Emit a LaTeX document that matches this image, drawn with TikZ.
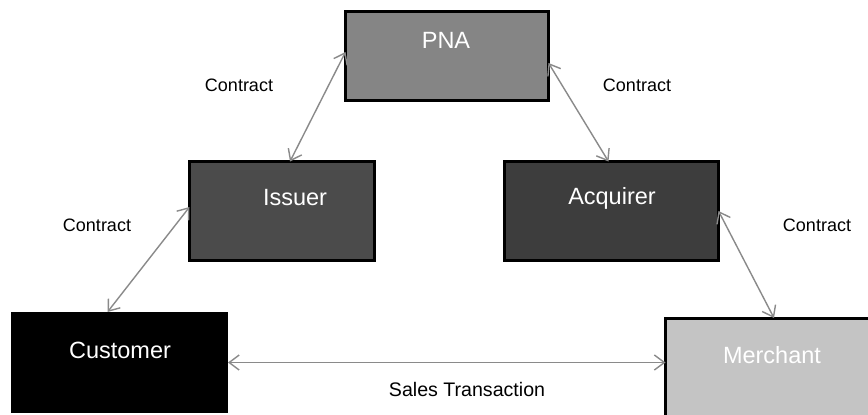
\documentclass[tikz,border=0pt]{standalone}
\usepackage{fontspec}
\setmainfont{Liberation Sans}
\usetikzlibrary{arrows.meta}
\definecolor{pnagray}{HTML}{858585}
\definecolor{issgray}{HTML}{4B4B4B}
\definecolor{acqgray}{HTML}{3D3D3D}
\definecolor{mergray}{HTML}{C4C4C4}
\definecolor{arrgray}{HTML}{8A8A8A}
\tikzset{
  box/.style={draw=black, line width=3pt, rectangle, inner sep=0pt, outer sep=0pt},
  boxtext/.style={text=white, font=\fontsize{23.5}{27}\selectfont, inner sep=0pt},
  lbl/.style={text=black, font=\fontsize{18}{21}\selectfont, inner sep=0pt},
  link/.style={draw=arrgray, line width=1.4pt, {Straight Barb[length=10pt,width=15pt]}-{Straight Barb[length=10pt,width=15pt]}}
}
\begin{document}
\begin{tikzpicture}[x=1pt,y=-1pt]
\useasboundingbox (0,0) rectangle (868,415);
\clip (0,0) rectangle (868,415);
\fill[white] (0,0) rectangle (868,415);
% boxes
\node[box, fill=pnagray, minimum width=203pt, minimum height=89pt] (pna) at (447,56) {};
\node[box, fill=issgray, minimum width=185pt, minimum height=99pt] (issuer) at (282,211) {};
\node[box, fill=acqgray, minimum width=214pt, minimum height=99pt] (acquirer) at (611.5,211) {};
\node[box, draw=none, fill=black, minimum width=217pt, minimum height=101pt] (customer) at (119.5,362.5) {};
\node[box, fill=mergray, minimum width=216pt, minimum height=113pt] (merchant) at (773.5,374.5) {};
% box texts
\node[boxtext] (pnat) at (446,40) {PNA};
\node[boxtext] (issuert) at (295,198) {Issuer};
\node[boxtext] (acquirert) at (612,198) {Acquirer};
\node[boxtext] (customert) at (120,350) {Customer};
\node[boxtext] (merchantt) at (772,355) {Merchant};
% connectors
\draw[link] ([yshift=4pt]pna.west) -- ([xshift=8pt]issuer.north);
\draw[link] ([yshift=-7pt]pna.east) -- ([xshift=-3pt]acquirer.north);
\draw[link] ([yshift=4pt]issuer.west) -- ([xshift=-12pt]customer.north);
\draw[link] (acquirer.east) -- ([xshift=0.5pt]merchant.north);
\draw[link] (customer.east) -- (customer.east -| merchant.west);
% labels
\node[lbl] (c1) at (239,85) {Contract};
\node[lbl] (c2) at (637,85) {Contract};
\node[lbl] (c3) at (97,225) {Contract};
\node[lbl] (c4) at (817,225) {Contract};
\node[lbl, font=\fontsize{19.6}{23}\selectfont] (st) at (467,389) {Sales Transaction};
\end{tikzpicture}
\end{document}
